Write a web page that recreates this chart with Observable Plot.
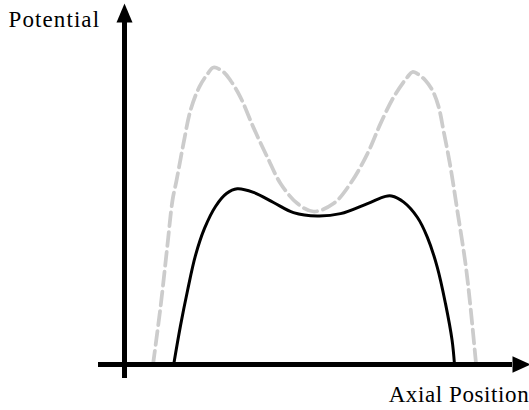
<!DOCTYPE html>
<html>
<head>
<meta charset="utf-8">
<script src="https://cdn.jsdelivr.net/npm/d3@7"></script>
<script src="https://cdn.jsdelivr.net/npm/@observablehq/plot@0.6"></script>
<style>
  html, body { margin: 0; padding: 0; background: #fff; }
  #chart svg { display: block; }
  #chart svg text { font-family: "Liberation Serif", serif !important; }
</style>
</head>
<body>
<div id="chart"></div>
<script>
// Free (unshielded) potential along the axis: two humps with a dip between them
const axialFree = [7.13, 9.0, 10.68, 12.0, 13.0, 14.75, 16.5, 18.75, 20.7, 22.25, 24.75, 26.5, 29.0, 32.25, 35.75, 39.0, 43.25, 47.25, 52.25, 56.5, 60.75, 64.0, 67.25, 70.7, 72.0, 73.25, 75.25, 77.0, 78.5, 79.75, 81.5, 83.2, 85.25, 86.5, 87.9];
const potentialFree = [0, 15.9, 32.6, 45.6, 51.1, 61.4, 70.6, 77.2, 80.6, 82.5, 81.25, 78.9, 74.2, 65.8, 57.5, 50.3, 44.7, 42.5, 44.7, 50.3, 58.6, 66.9, 74.2, 79.8, 81.25, 80.75, 78.9, 76.1, 71.7, 65.0, 54.8, 42.8, 28.0, 15.9, 0];

// Flattened potential: lower shoulders, nearly flat top
const axialFlat = [12.3, 14.0, 15.75, 17.75, 20.0, 22.75, 25.5, 28.2, 32.25, 37.25, 42.25, 48.2, 54.0, 60.75, 65.25, 66.75, 69.8, 73.2, 75.7, 78.2, 80.25, 81.9, 82.5];
const potentialFlat = [0, 10.8, 20.5, 30.3, 37.8, 43.9, 47.5, 48.8, 47.8, 45.0, 42.2, 41.25, 41.9, 44.7, 46.7, 46.8, 45.1, 40.9, 35.4, 27.0, 16.9, 6.7, 0];

// Axis labels and their letter spacing (px)
const yLabel = "Potential";
const xLabel = "Axial Position";
const labelSpacing = {[yLabel]: 1.1, [xLabel]: 0.6};

const freeCurve = axialFree.map((x, i) => ({x, y: potentialFree[i]}));
const flatCurve = axialFlat.map((x, i) => ({x, y: potentialFlat[i]}));

// Filled arrowheads for the axis ends (base centred on the anchor point)
const headUp = {draw(ctx) { ctx.moveTo(0, -19); ctx.lineTo(8, 0); ctx.lineTo(-8, 0); ctx.closePath(); }};
const headRight = {draw(ctx) { ctx.moveTo(18, 0); ctx.lineTo(0, 8.3); ctx.lineTo(0, -8.3); ctx.closePath(); }};

const font = "Liberation Serif";

const chart = Plot.plot({
  width: 529,
  height: 410,
  marginLeft: 124,
  marginRight: 5,
  marginTop: 4,
  marginBottom: 46,
  style: {background: "#fff"},
  x: {domain: [0, 100], axis: null},
  y: {domain: [0, 100], axis: null},
  marks: [
    Plot.line(freeCurve, {x: "x", y: "y", curve: "catmull-rom", stroke: "#cccccc", strokeWidth: 3.75, strokeDasharray: "13.9,6"}),
    Plot.line(flatCurve, {x: "x", y: "y", curve: "catmull-rom", stroke: "#000", strokeWidth: 3}),
    Plot.ruleY([0], {x1: -6.5, x2: 97, stroke: "#000", strokeWidth: 5}),
    Plot.ruleX([0], {y1: -3.9, y2: 95, stroke: "#000", strokeWidth: 5}),
    Plot.dot([{x: 0, y: 95}], {x: "x", y: "y", symbol: headUp, fill: "#000", stroke: null}),
    Plot.dot([{x: 97, y: 0}], {x: "x", y: "y", symbol: headRight, fill: "#000", stroke: null}),
    Plot.text([yLabel], {x: -29, y: 95.7, text: d => d, textAnchor: "start", fontSize: 23, fill: "#000", fontFamily: font}),
    Plot.text([xLabel], {x: 101.2, y: -8.4, text: d => d, textAnchor: "end", fontSize: 23, fill: "#000", fontFamily: font})
  ]
});

// Widen the serif labels slightly
d3.select(chart).selectAll("text").each(function() {
  const s = labelSpacing[this.textContent];
  if (s != null) this.style.letterSpacing = s + "px";
});

document.getElementById("chart").appendChild(chart);
</script>
</body>
</html>
